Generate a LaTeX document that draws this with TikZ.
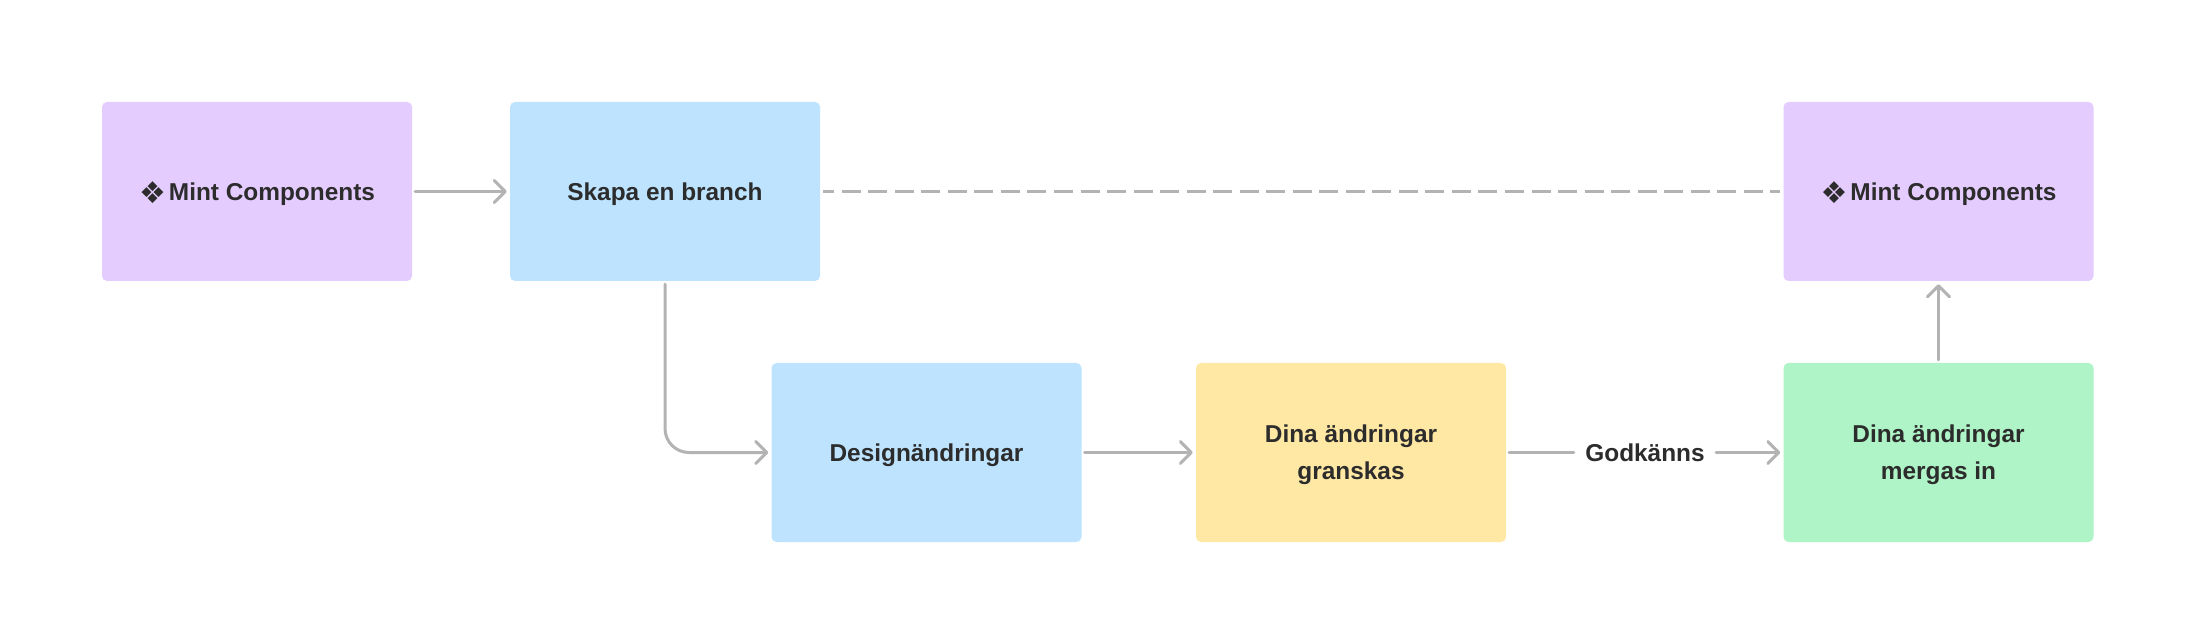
\documentclass[tikz,border=0pt]{standalone}
\usepackage{fontspec}
\setmainfont{Liberation Sans}[BoldFont={Liberation Sans Bold}]
\newfontfamily\symfont{DejaVu Sans}
\usetikzlibrary{arrows.meta}
\definecolor{purplebox}{HTML}{E5CCFF}
\definecolor{bluebox}{HTML}{BDE3FF}
\definecolor{yellowbox}{HTML}{FFE8A3}
\definecolor{greenbox}{HTML}{AFF4C6}
\definecolor{inktext}{HTML}{2C2C2C}
\definecolor{linegrey}{HTML}{B3B3B3}
\newcommand{\linestrut}{\rule[-6pt]{0pt}{29.5pt}}
\newcommand{\diamondmark}{\raisebox{-3pt}{\fontsize{30}{37}\selectfont\symfont ❖}\hspace{3pt}}
\tikzset{
  flowbox/.style={rectangle,rounded corners=5pt,draw=none,minimum width=310pt,minimum height=179pt,inner sep=0pt,
    align=center,text=inktext,font=\fontsize{24.4}{37}\selectfont\bfseries},
  edgelabel/.style={inner sep=0pt,minimum width=142pt,minimum height=30pt,text=inktext,font=\fontsize{24.4}{37}\selectfont\bfseries},
  conn/.style={draw=linegrey,line width=3pt,line cap=round,line join=round,shorten <=3pt,shorten >=3pt,
    -{Straight Barb[length=11pt,width=22pt,line width=3pt,round]}},
  plainconn/.style={draw=linegrey,line width=3pt,line cap=round,shorten <=3pt},
  dashconn/.style={draw=linegrey,line width=3pt,shorten <=3pt,shorten >=3pt,dash pattern=on 19pt off 7.53pt,dash phase=8pt}
}
\begin{document}
\begin{tikzpicture}[x=1pt,y=-1pt]
\useasboundingbox (0,0) rectangle (2196,644);
\fill[white] (0,0) rectangle (2196,644);
\node[flowbox,fill=purplebox] (mint1) at (257,191.5) {\linestrut\diamondmark Mint Components};
\node[flowbox,fill=bluebox] (branch) at (665,191.5) {\linestrut Skapa en branch};
\node[flowbox,fill=purplebox] (mint2) at (1938.5,191.5) {\linestrut\diamondmark Mint Components};
\node[flowbox,fill=bluebox] (design) at (926.5,452.5) {\linestrut Designändringar};
\node[flowbox,fill=yellowbox] (review) at (1351,452.5) {\linestrut Dina ändringar\\\linestrut granskas};
\node[flowbox,fill=greenbox] (merge) at (1938.5,452.5) {\linestrut Dina ändringar\\\linestrut mergas in};
\node[edgelabel] (ok) at (1645,452.5) {\linestrut Godkänns};
\draw[conn] (mint1.east) -- (branch.west);
\draw[dashconn] (branch.east) -- (mint2.west);
\draw[conn,rounded corners=24pt] (branch.south) |- (design.west);
\draw[conn] (design.east) -- (review.west);
\draw[plainconn] (review.east) -- (ok.west);
\draw[conn,shorten <=0pt] (ok.east) -- (merge.west);
\draw[conn] (merge.north) -- (mint2.south);
\end{tikzpicture}
\end{document}
